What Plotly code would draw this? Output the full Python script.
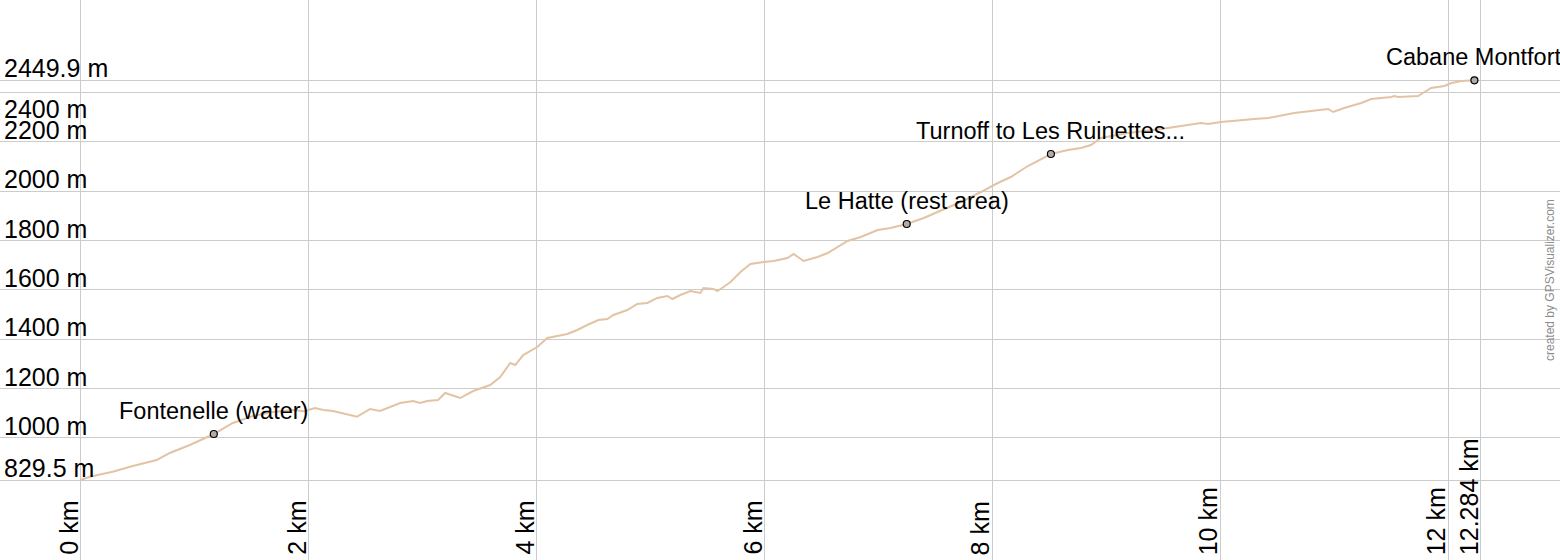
import plotly.graph_objects as go

# Elevation profile (distance in km, elevation in m)
dist_km = [0.000, 0.079, 0.281, 0.457, 0.668, 0.782, 0.958, 1.168, 1.335, 1.511,
           1.687, 1.863, 1.960, 2.056, 2.130, 2.214, 2.425, 2.539, 2.627, 2.803,
           2.917, 2.978, 3.040, 3.136, 3.198, 3.330, 3.444, 3.523, 3.593, 3.681,
           3.769, 3.813, 3.883, 4.006, 4.094, 4.270, 4.357, 4.445, 4.542, 4.621,
           4.674, 4.797, 4.884, 4.972, 5.060, 5.148, 5.192, 5.262, 5.350, 5.438,
           5.464, 5.552, 5.587, 5.640, 5.702, 5.789, 5.877, 5.991, 6.079, 6.202,
           6.255, 6.343, 6.466, 6.554, 6.668, 6.729, 6.844, 6.993, 7.107, 7.248,
           7.397, 7.546, 7.722, 7.898, 8.047, 8.161, 8.311, 8.513, 8.662, 8.776,
           8.864, 8.952, 9.189, 9.479, 9.716, 9.830, 9.892, 10.006, 10.296, 10.419,
           10.647, 10.884, 10.946, 10.990, 11.086, 11.236, 11.323, 11.499, 11.525, 11.561,
           11.736, 11.763, 11.850, 11.965, 12.028, 12.115, 12.229]
elev_m = [829.5, 842.9, 863.1, 886.3, 910.6, 939.0, 971.4, 1016.0, 1060.6, 1088.9,
          1105.2, 1113.3, 1108.0, 1121.4, 1113.0, 1109.2, 1086.1, 1117.3, 1109.2, 1141.7,
          1149.8, 1141.7, 1149.8, 1153.8, 1182.2, 1161.9, 1190.3, 1202.5, 1214.6, 1247.1,
          1303.8, 1295.7, 1336.2, 1368.7, 1405.2, 1421.4, 1437.6, 1457.9, 1478.1, 1482.2,
          1498.4, 1518.7, 1543.0, 1547.1, 1567.4, 1575.5, 1563.3, 1579.5, 1595.7, 1587.6,
          1607.9, 1603.9, 1595.7, 1612.0, 1632.2, 1672.8, 1705.2, 1713.3, 1717.3, 1729.5,
          1745.7, 1717.3, 1733.5, 1749.8, 1782.2, 1798.4, 1814.6, 1843.0, 1851.1, 1867.3,
          1891.6, 1919.9, 1956.4, 1997.0, 2033.5, 2057.8, 2102.4, 2151.0, 2167.3, 2175.4,
          2187.6, 2215.9, 2236.2, 2252.4, 2268.6, 2276.7, 2272.7, 2280.8, 2292.9, 2297.0,
          2317.3, 2329.5, 2333.5, 2321.3, 2337.6, 2358.0, 2374.1, 2382.2, 2386.2, 2382.2,
          2386.2, 2394.3, 2418.6, 2426.7, 2438.9, 2447.0, 2449.9]

# Waypoints
wpt_names = ["Fontenelle (water)", "Le Hatte (rest area)",
             "Turnoff to Les Ruinettes...", "Cabane Montfort"]
wpt_km = [1.168, 7.248, 8.513, 12.229]
wpt_m = [1016.0, 1867.3, 2151.0, 2449.9]

# Axis ticks
x_ticks = [0, 2, 4, 6, 8, 10, 12, 12.284]
x_tick_labels = ["0 km", "2 km", "4 km", "6 km", "8 km", "10 km", "12 km", "12.284 km"]
y_ticks = [829.5, 1000, 1200, 1400, 1600, 1800, 2000, 2200, 2400, 2449.9]
y_tick_labels = ["829.5 m", "1000 m", "1200 m", "1400 m", "1600 m", "1800 m",
                 "2000 m", "2200 m", "2400 m", "2449.9 m"]

FONT = "Arial, Liberation Sans, sans-serif"

fig = go.Figure()
fig.add_trace(go.Scatter(x=dist_km, y=elev_m, mode="lines",
                         line=dict(color="rgb(226,196,164)", width=2),
                         hoverinfo="skip", showlegend=False))
fig.add_trace(go.Scatter(x=wpt_km, y=wpt_m, mode="markers",
                         marker=dict(size=7, color="rgb(180,172,164)",
                                     line=dict(color="black", width=1.2)),
                         hoverinfo="skip", showlegend=False))

annotations = []
for xv, lab in zip(x_ticks, x_tick_labels):
    annotations.append(dict(x=xv, y=0, xref="x", yref="paper", text=lab,
                            showarrow=False, textangle=-90, xanchor="right",
                            yanchor="bottom", xshift=4, yshift=3,
                            font=dict(family=FONT, size=25, color="black")))
for i, (yv, lab) in enumerate(zip(y_ticks, y_tick_labels)):
    # the label just below the top tick is set beneath its gridline to avoid overlap
    below = (i == len(y_ticks) - 2)
    annotations.append(dict(x=0, y=yv, xref="paper", yref="y", text=lab,
                            showarrow=False, xanchor="left",
                            yanchor="top" if below else "bottom",
                            xshift=2, yshift=0 if below else -4,
                            font=dict(family=FONT, size=25, color="black")))
for xv, yv, lab in zip(wpt_km, wpt_m, wpt_names):
    annotations.append(dict(x=xv, y=yv, xref="x", yref="y", text=lab,
                            showarrow=False, xanchor="center", yanchor="bottom",
                            yshift=8,
                            font=dict(family=FONT, size=23.5, color="black")))
annotations.append(dict(x=1, y=0.5, xref="paper", yref="paper",
                        text="created by GPSVisualizer.com", showarrow=False,
                        textangle=-90, xanchor="right", yanchor="middle", xshift=-1,
                        font=dict(family=FONT, size=12, color="rgb(140,140,140)")))

fig.update_layout(
    width=1560, height=560,
    margin=dict(l=0, r=0, t=0, b=0),
    paper_bgcolor="white", plot_bgcolor="white",
    xaxis=dict(range=[-0.708, 12.980], tickvals=x_ticks, showticklabels=False,
               showgrid=True, gridcolor="rgb(204,204,204)", gridwidth=1,
               zeroline=False, showline=False, ticks="", fixedrange=True),
    yaxis=dict(range=[505.2, 2775.4], tickvals=y_ticks, showticklabels=False,
               showgrid=True, gridcolor="rgb(204,204,204)", gridwidth=1,
               zeroline=False, showline=False, ticks="", fixedrange=True),
    annotations=annotations,
    showlegend=False,
)

fig.write_html("out.html", config={"displayModeBar": False},
               post_script="document.body.style.margin='0';document.body.style.overflow='hidden';")
